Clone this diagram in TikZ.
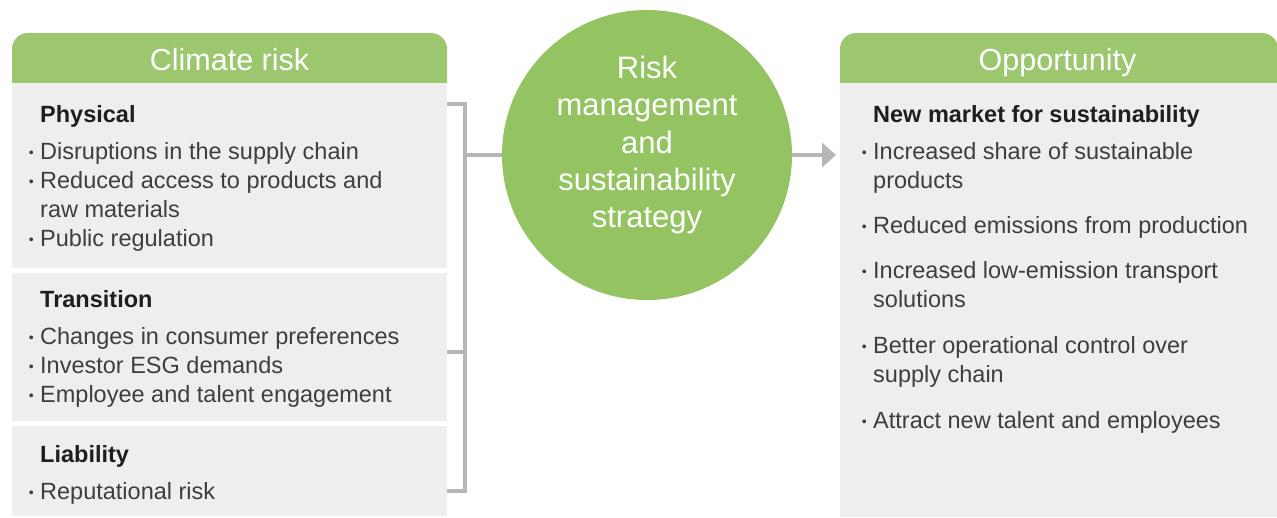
\documentclass[tikz,border=0pt]{standalone}
\usepackage{fontspec}
\setmainfont{Liberation Sans}
\usetikzlibrary{arrows.meta}

\definecolor{leaf}{RGB}{157,199,111}
\definecolor{bubblegreen}{RGB}{148,196,98}
\definecolor{panelgrey}{RGB}{238,238,238}
\definecolor{wiregrey}{RGB}{182,182,182}
\definecolor{inkgrey}{RGB}{62,62,62}
\definecolor{inkdark}{RGB}{30,30,30}

% small hanging bullet in front of a list line
\newcommand{\bul}{\llap{\raisebox{2pt}{\fontsize{14}{14}\selectfont\textbullet}\hspace{6.5pt}}}

\tikzset{
  head/.style={fill=leaf},
  panel/.style={fill=panelgrey},
  title/.style={anchor=base,inner sep=0pt,text=white,font=\fontsize{30.5}{36}\selectfont},
  group/.style={anchor=base west,inner sep=0pt,text=inkdark,font=\fontsize{23.5}{29}\selectfont\bfseries},
  item/.style={anchor=base west,inner sep=0pt,align=left,text=inkgrey,font=\fontsize{23.5}{29}\selectfont},
  bubble/.style={circle,fill=bubblegreen,minimum size=290pt,inner sep=0pt},
  bubbletext/.style={align=center,inner sep=0pt,text=white,font=\fontsize{31}{37.25}\selectfont},
  wire/.style={draw=wiregrey,line width=3.3pt},
}

\begin{document}
\begin{tikzpicture}[x=1pt,y=-1pt]
  \useasboundingbox (0,0) rectangle (1277,517);

  % left panel: risks
  \fill[head] (12,83) [rounded corners=16] -- (12,33) -- (447,33) [sharp corners] -- (447,83) -- cycle;
  \fill[panel] (12,83) rectangle (447,516);
  \foreach \y in {268,421} \fill[white] (12,\y) rectangle (447,\y+5);
  \node[title] (climate) at (229.5,70) {Climate risk};

  \node[group] (physical) at (40,122) {Physical};
  \node[group] (transition) at (40,307) {Transition};
  \node[group] (liability) at (40,462) {Liability};
  % y is the baseline of the last line of each item
  \foreach \n/\y/\t in {
      supply/159/{Disruptions in the supply chain},
      access/217/{Reduced access to products and\\raw materials},
      regulation/246/{Public regulation},
      consumer/344/{Changes in consumer preferences},
      investor/373/{Investor ESG demands},
      talent/402/{Employee and talent engagement},
      reputation/499/{Reputational risk}}
    \node[item] (\n) at (40,\y) {\bul\t};

  % right panel: opportunities
  \fill[head] (840,83) [rounded corners=16] -- (840,33) -- (1278,33) [sharp corners] -- (1278,83) -- cycle;
  \fill[panel] (840,83) rectangle (1278,517);
  \node[title] (opportunity) at (1057.5,70) {Opportunity};

  \node[group] (market) at (873,122) {New market for sustainability};
  \foreach \n/\y/\t in {
      share/188/{Increased share of sustainable\\products},
      emissions/233/{Reduced emissions from production},
      transport/307/{Increased low-emission transport\\solutions},
      control/382/{Better operational control over\\supply chain},
      attract/428/{Attract new talent and employees}}
    \node[item] (\n) at (873,\y) {\bul\t};

  % centre
  \node[bubble] (core) at (647,155) {};
  \node[bubbletext] (coretitle) at (647,145) {Risk\\management\\and\\sustainability\\strategy};

  % bracket into the circle, arrow out to the right
  \coordinate (tphys) at (447,104);
  \coordinate (ttrans) at (447,352);
  \coordinate (tliab) at (447,491);
  \coordinate (spine) at (465,155);
  \coordinate (tip) at (836,155);
  \draw[wire] (tphys) -| (465,491) -- (tliab);
  \draw[wire] (ttrans) -- (465,352);
  \draw[wire] (spine) -- (core.west);
  \draw[wire,line width=4.5pt,-{Triangle[length=14pt,width=24pt]}] (core.east) -- (tip);
\end{tikzpicture}
\end{document}
